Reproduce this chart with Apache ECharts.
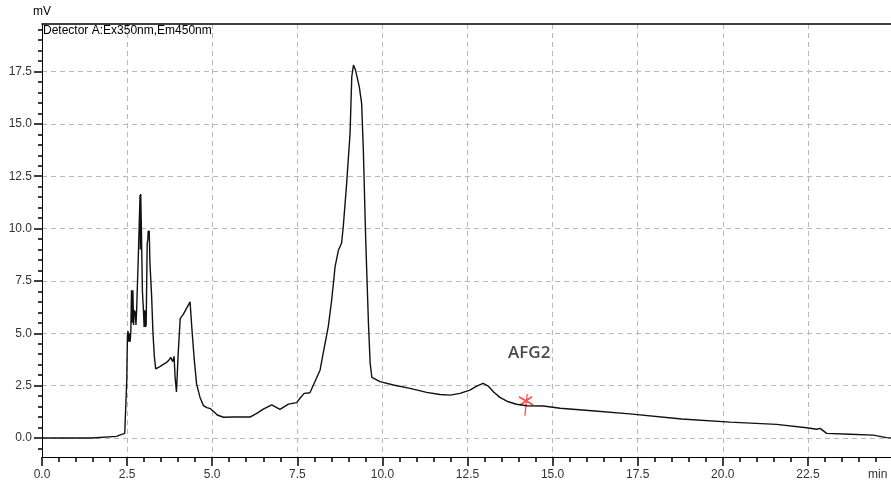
<!DOCTYPE html>
<html><head><meta charset="utf-8">
<script src="https://cdn.jsdelivr.net/npm/echarts@6/dist/echarts.min.js"></script>
<style>html,body{margin:0;padding:0;background:#fff}#c{width:891px;height:486px}</style>
</head><body><div id="c"></div>
<script>
// Chromatogram trace: retention time (min) and detector signal (mV)
const times = [0,1.46,1.47,2.19,2.3,2.43,2.48,
  2.49,2.5,2.51,2.53,2.55,2.57,2.59,2.61,
  2.63,2.65,2.67,2.69,2.71,2.74,2.76,2.78,2.8,
  2.83,2.86,2.88,2.89,2.9,2.92,2.95,2.98,3.0,3.02,3.04,3.06,
  3.09,3.11,3.12,3.13,3.15,3.17,3.22,3.26,3.3,3.34,
  3.38,3.45,3.5,3.55,3.6,3.65,3.72,3.78,3.84,3.88,3.91,3.95,3.98,4.0,4.06,4.15,4.25,4.35,4.4,4.47,4.54,4.64,4.74,4.84,4.95,5.05,5.15,5.33,5.62,6.11,6.31,6.5,6.75,6.99,7.24,7.48,7.58,7.7,7.87,8.02,8.17,8.26,8.41,8.51,8.61,8.71,8.8,8.85,8.95,9.05,9.1,9.15,9.21,9.32,9.39,9.44,9.51,9.59,9.64,9.69,9.93,10.32,10.81,11.3,11.69,11.99,12.28,12.57,12.77,12.96,13.11,13.26,13.45,13.7,13.94,14.24,14.73,15.22,16.15,17.27,18.79,20.21,21.58,22.46,22.76,22.86,23.05,23.74,24.42,24.81,25];
const signal = [0,0,0.08,0.08,0.15,0.22,0.3,
  2.75,2.8,4.9,5.1,4.6,5.0,4.6,5.1,
  7.05,5.5,7.05,5.4,6.1,6.0,5.4,6.1,6.1,
  8.7,8.7,11.6,9.0,11.65,10.0,7.0,6.1,5.3,6.1,5.3,5.4,
  9.3,9.5,9.9,9.6,9.9,8.4,6.8,5.0,3.9,3.3,
  3.25,3.4,3.45,3.5,3.45,3.6,3.7,3.85,3.65,3.9,2.9,2.2,2.15,4.0,5.7,5.9,6.2,6.5,5.3,3.8,2.6,1.95,1.55,1.45,1.4,1.25,1.1,0.99,1.0,1.0,1.18,1.38,1.58,1.37,1.62,1.69,1.9,2.13,2.16,2.7,3.25,4.04,5.32,6.59,8.18,8.98,9.3,10.09,12.16,14.55,17.25,17.81,17.57,16.78,15.98,13.75,9.46,5.48,3.57,2.9,2.69,2.53,2.37,2.18,2.08,2.05,2.13,2.29,2.48,2.61,2.48,2.21,1.94,1.73,1.61,1.54,1.53,1.42,1.3,1.15,0.91,0.76,0.65,0.49,0.42,0.46,0.22,0.18,0.14,0.02,0];
const yMajorTicks = [0,2.5,5,7.5,10,12.5,15,17.5];
const yMinorTicks = [-0.5,0,0.5,1,1.5,2,2.5,3,3.5,4,4.5,5,5.5,6,6.5,7,7.5,8,8.5,9,9.5,10,10.5,11,11.5,12,12.5,13,13.5,14,14.5,15,15.5,16,16.5,17,17.5,18,18.5,19,19.5];
const markerTime = [14.22];
const markerValue = [1.58];
const peakName = 'AFG2';
const detectorText = 'Detector A:Ex350nm,Em450nm';

const FONT = 'Liberation Sans, Arial, sans-serif';
const chart = echarts.init(document.getElementById('c'), null, {renderer:'canvas'});
const dash = {color:'#b8b8b8', type:[5,4], width:1};
chart.setOption({
  animation:false,
  backgroundColor:'#fff',
  title:{text:detectorText, left:43, top:25, padding:0,
    textStyle:{fontSize:12, fontWeight:'normal', color:'#000', fontFamily:FONT}},
  grid:{left:42, top:24, width:851, height:433, outerBoundsMode:'none', containLabel:false, show:false},
  xAxis:[{type:'value', position:'bottom', min:0, max:25, interval:2.5,
    axisLine:{show:true, onZero:false, lineStyle:{color:'#000', width:1}},
    axisTick:{show:true, length:9, lineStyle:{color:'#000', width:1.5}},
    minorTick:{show:true, splitNumber:5, length:5, lineStyle:{color:'#000', width:1.5}},
    splitLine:{show:true, lineStyle:dash},
    axisLabel:{margin:12, fontSize:12, color:'#333', fontFamily:FONT, showMaxLabel:false, formatter:v=>v.toFixed(1)}
  },{type:'value', position:'top', min:0, max:25, interval:2.5,
    axisLine:{show:true, onZero:false, lineStyle:{color:'#000', width:1.5}},
    axisTick:{show:false}, axisLabel:{show:false}, splitLine:{show:false}
  }],
  yAxis:[{type:'value', position:'left', min:-0.907, max:19.77, name:'mV', nameLocation:'end', nameGap:6,
    nameTextStyle:{fontSize:12, color:'#000', fontFamily:FONT},
    axisLine:{show:true, onZero:false, lineStyle:{color:'#000', width:1}},
    axisTick:{show:true, length:8, customValues:yMajorTicks, lineStyle:{color:'#000', width:1.5}},
    axisLabel:{show:true, customValues:yMajorTicks, margin:10, fontSize:12, color:'#333', fontFamily:FONT, formatter:v=>v.toFixed(1)},
    splitLine:{show:true, lineStyle:dash}
  },{type:'value', position:'left', offset:0, min:-0.907, max:19.77,
    axisLine:{show:false, onZero:false},
    axisTick:{show:true, length:4, customValues:yMinorTicks, lineStyle:{color:'#000', width:1.5}},
    axisLabel:{show:false},
    splitLine:{show:false}
  }],
  series:[{type:'line', xAxisIndex:0, yAxisIndex:0, showSymbol:false, symbol:'none',
    data:times.map((t,i)=>[t,signal[i]]),
    lineStyle:{color:'#111', width:1.4}},
   {type:'scatter', xAxisIndex:0, yAxisIndex:0,
    data:markerTime.map((t,i)=>[t,markerValue[i]]),
    symbol:'path://M8,0 L6,22 M1,3 L13,11 M2,11 L12,3',
    symbolSize:[14,22],
    itemStyle:{color:'transparent', borderColor:'#ff1a1a', borderWidth:1.5}}
  ],
  graphic:[
    {type:'text', left:868, top:469, style:{text:'min', fontSize:12, fill:'#333', fontFamily:FONT}},
    {type:'text', left:508, top:345, style:{text:peakName, fontSize:17, fontWeight:600, fill:'#4a4a4a', fontFamily:'Open Sans, sans-serif'}}
  ]
});
</script></body></html>
